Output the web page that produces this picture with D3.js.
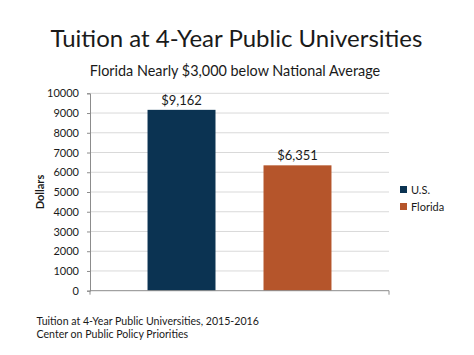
<!DOCTYPE html>
<html><head><meta charset="utf-8">
<script src="https://cdn.jsdelivr.net/npm/d3@7"></script>
<style>body{margin:0;background:#fff}svg{display:block}text{font-family:Lato,"Open Sans",sans-serif;fill:#1a1a1a}</style>
</head><body><svg id="c" width="474" height="355"></svg>
<script>
const series = ["U.S.", "Florida"];
const values = [9162, 6351];
const valueLabels = ["$9,162", "$6,351"];
const colors = ["#0b3352", "#b5552b"];
const yTicks = [0,1000,2000,3000,4000,5000,6000,7000,8000,9000,10000];
const title = "Tuition at 4-Year Public Universities";
const subtitle = "Florida Nearly $3,000 below National Average";
const footer = ["Tuition at 4-Year Public Universities, 2015-2016", "Center on Public Policy Priorities"];

const svg = d3.select("#c");
const L=90,R=389,T=93.3,B=290.7;
const y = d3.scaleLinear().domain([0,10000]).range([B,T]);
const x = d3.scaleBand().domain(series).range([L,R]).paddingInner(0.414).paddingOuter(0.496);

svg.append("text").attr("x",236.5).attr("y",47).attr("text-anchor","middle").attr("font-size",24).text(title);
svg.append("text").attr("x",235).attr("y",76).attr("text-anchor","middle").attr("font-size",14.4).text(subtitle);

// gridlines
svg.append("g").selectAll("line").data(yTicks.filter(d=>d>0)).join("line")
  .attr("x1",L).attr("x2",R).attr("y1",d=>y(d)).attr("y2",d=>y(d))
  .attr("stroke","#d9d9d9").attr("stroke-width",1);

// y axis
const ya = svg.append("g").attr("transform",`translate(${L},0)`)
  .call(d3.axisLeft(y).tickValues(yTicks).tickSize(3).tickPadding(8).tickFormat(d3.format("d")));
ya.select(".domain").attr("stroke","#8c8c8c");
ya.selectAll(".tick line").attr("stroke","#8c8c8c");
ya.selectAll("text").attr("font-size",11).attr("font-family","Lato,sans-serif").attr("fill","#1a1a1a");

// bars
svg.append("g").selectAll("rect").data(values).join("rect")
  .attr("x",(d,i)=>x(series[i])).attr("width",x.bandwidth())
  .attr("y",d=>y(d)).attr("height",d=>B-y(d)).attr("fill",(d,i)=>colors[i]);
svg.append("g").selectAll("text").data(values).join("text")
  .attr("x",(d,i)=>x(series[i])+x.bandwidth()/2).attr("y",d=>y(d)-5)
  .attr("text-anchor","middle").attr("font-size",13).text((d,i)=>valueLabels[i]);

// x axis
svg.append("line").attr("x1",L).attr("x2",R).attr("y1",B).attr("y2",B).attr("stroke","#8c8c8c");
[L,R].forEach(px=>svg.append("line").attr("x1",px).attr("x2",px).attr("y1",B).attr("y2",B+4).attr("stroke","#8c8c8c"));

svg.append("text").attr("transform",`translate(44,192) rotate(-90)`).attr("text-anchor","middle")
  .attr("font-size",11).attr("font-weight","bold").text("Dollars");

// legend
const lg = svg.append("g").selectAll("g").data(series).join("g")
  .attr("transform",(d,i)=>`translate(400,${186+i*17})`);
lg.append("rect").attr("width",7).attr("height",7).attr("fill",(d,i)=>colors[i]);
lg.append("text").attr("x",11).attr("y",7.5).attr("font-size",11).text(d=>d);

footer.forEach((t,i)=>svg.append("text").attr("x",36.5).attr("y",325+i*13).attr("font-size",10.6).text(t));
</script></body></html>
